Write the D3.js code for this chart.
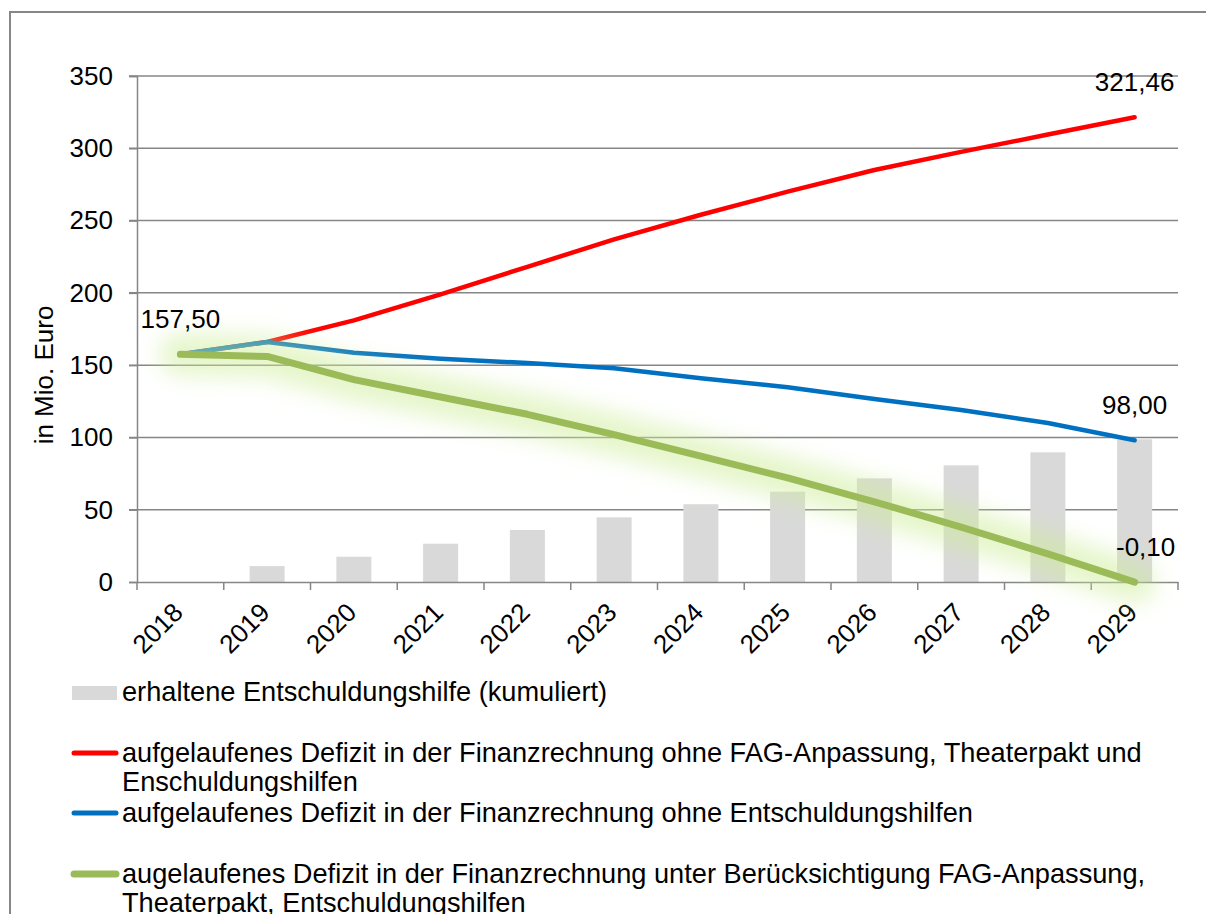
<!DOCTYPE html>
<html><head><meta charset="utf-8">
<script src="https://cdn.jsdelivr.net/npm/d3@7"></script>
<style>
body{margin:0;background:#fff}
text{font-family:"Liberation Sans",Arial,sans-serif;fill:#000}
</style>
</head><body>
<svg id="c" width="1206" height="914"></svg>
<script>
const years = ["2018","2019","2020","2021","2022","2023","2024","2025","2026","2027","2028","2029"];
const hilfeKumuliert = [0, 11, 17.5, 26.5, 36, 44.7, 53.8, 62.5, 71.7, 80.7, 89.7, 98.7];
const defizitOhneAlles = [157.5, 166, 181, 199, 218, 237, 254, 270, 285, 297.5, 309.5, 321.46];
const defizitOhneHilfen = [157.5, 166, 158.6, 154.5, 151.4, 147.8, 141, 134.7, 126.6, 119, 110, 98];
const defizitMitAllem = [157.5, 156, 140, 128, 116, 102, 87, 72, 55.5, 38, 19.5, -0.1];
const yTicks = [0, 50, 100, 150, 200, 250, 300, 350];
const pointLabels = [
  {series: "green", idx: 0, text: "157,50"},
  {series: "red", idx: 11, text: "321,46"},
  {series: "blue", idx: 11, text: "98,00"},
  {series: "green", idx: 11, text: "-0,10"}
];
const legendItems = [
  {type: "bar", lines: ["erhaltene Entschuldungshilfe (kumuliert)"]},
  {type: "red", lines: ["aufgelaufenes Defizit in der Finanzrechnung ohne FAG-Anpassung, Theaterpakt und", "Enschuldungshilfen"]},
  {type: "blue", lines: ["aufgelaufenes Defizit in der Finanzrechnung ohne Entschuldungshilfen"]},
  {type: "green", lines: ["augelaufenes Defizit in der Finanzrechnung unter Berücksichtigung FAG-Anpassung,", "Theaterpakt, Entschuldungshilfen"]}
];

const svg = d3.select("#c");
const FS = 26;
const LFS = 27.2;
const gridColor = "#868686";
const colors = {red: "#ff0000", blue: "#0070c0", green: "#9bbb59", bar: "#d9d9d9"};
const seriesData = {red: defizitOhneAlles, blue: defizitOhneHilfen, green: defizitMitAllem};

const x = d3.scaleBand().domain(years).range([137, 1178]).padding(0);
const y = d3.scaleLinear().domain([0, 350]).range([582, 76]);
const cx = d => x(d) + x.bandwidth() / 2;

// outer border
svg.append("path").attr("d", "M10,914 L10,12 L1206,12")
  .attr("fill", "none").attr("stroke", gridColor).attr("stroke-width", 2);

const defs = svg.append("defs");
defs.append("filter").attr("id", "glow").attr("x", "-20%").attr("y", "-50%").attr("width", "140%").attr("height", "200%")
  .append("feGaussianBlur").attr("stdDeviation", 11);

// gridlines
svg.append("g").selectAll("line").data(yTicks.filter(t => t > 0)).join("line")
  .attr("x1", 129).attr("x2", 1178).attr("y1", d => y(d)).attr("y2", d => y(d))
  .attr("stroke", gridColor).attr("stroke-width", 1.5);

// y axis
const yAxis = svg.append("g").attr("transform", "translate(137,0)")
  .call(d3.axisLeft(y).tickValues(yTicks).tickSize(8).tickPadding(16).tickFormat(d3.format("d")));
yAxis.select(".domain").attr("stroke", gridColor).attr("stroke-width", 1.5);
yAxis.selectAll(".tick line").attr("stroke", gridColor).attr("stroke-width", 1.5);
yAxis.selectAll(".tick text").attr("font-size", FS).attr("font-family", "Liberation Sans, Arial, sans-serif").attr("fill", "#000");

// y title
svg.append("text").attr("transform", "translate(53,375) rotate(-90)")
  .attr("text-anchor", "middle").attr("font-size", FS).text("in Mio. Euro");

// bars
svg.append("g").selectAll("rect").data(years).join("rect")
  .attr("x", (d, i) => cx(d) - 17.5).attr("width", 35)
  .attr("y", (d, i) => y(hilfeKumuliert[i])).attr("height", (d, i) => y(0) - y(hilfeKumuliert[i]))
  .attr("fill", colors.bar);

// x axis
const xAxis = svg.append("g").attr("transform", "translate(0,582)")
  .call(d3.axisBottom(x).tickSize(0).tickFormat(""));
xAxis.select(".domain").attr("stroke", gridColor).attr("stroke-width", 1.5);
const tickPos = years.map(d => x(d)).concat([x(years[years.length - 1]) + x.bandwidth()]);
svg.append("g").selectAll("line").data(tickPos).join("line")
  .attr("x1", d => d).attr("x2", d => d).attr("y1", 582).attr("y2", 590)
  .attr("stroke", gridColor).attr("stroke-width", 1.5);
svg.append("g").selectAll("text").data(years).join("text")
  .attr("transform", d => `translate(${cx(d) + 4},614) rotate(-45)`)
  .attr("text-anchor", "end").attr("font-size", FS).text(d => d);

const line = d3.line().x((d, i) => cx(years[i])).y(d => y(d));

svg.append("path").datum(defizitOhneAlles).attr("d", line)
  .attr("fill", "none").attr("stroke", colors.red).attr("stroke-width", 4.5)
  .attr("stroke-linejoin", "round").attr("stroke-linecap", "round");
svg.append("path").datum(defizitOhneHilfen).attr("d", line)
  .attr("fill", "none").attr("stroke", colors.blue).attr("stroke-width", 4.5)
  .attr("stroke-linejoin", "round").attr("stroke-linecap", "round");
// glow
svg.append("path").datum(defizitMitAllem).attr("d", line)
  .attr("fill", "none").attr("stroke", "#cdee95").attr("stroke-width", 42).attr("stroke-opacity", 0.5)
  .attr("stroke-linejoin", "round").attr("stroke-linecap", "round").attr("filter", "url(#glow)");
svg.append("path").datum(defizitMitAllem).attr("d", line)
  .attr("fill", "none").attr("stroke", colors.green).attr("stroke-width", 7)
  .attr("stroke-linejoin", "round").attr("stroke-linecap", "round");

// data labels
const labelDx = {"157,50": 0, "321,46": 0, "98,00": 0, "-0,10": 11};
svg.append("g").selectAll("text").data(pointLabels).join("text")
  .attr("x", d => cx(years[d.idx]) + labelDx[d.text])
  .attr("y", d => y(seriesData[d.series][d.idx]) - 26)
  .attr("text-anchor", "middle").attr("font-size", FS).text(d => d.text);

// legend
const legendBase = [701, 762, 822, 883];
const lg = svg.append("g");
legendItems.forEach((it, i) => {
  const b = legendBase[i];
  if (it.type === "bar") {
    lg.append("rect").attr("x", 72).attr("y", b - 15).attr("width", 45).attr("height", 14).attr("fill", colors.bar);
  } else {
    lg.append("line").attr("x1", 74).attr("x2", 116).attr("y1", b - 9).attr("y2", b - 9)
      .attr("stroke", colors[it.type]).attr("stroke-width", it.type === "green" ? 7 : 5).attr("stroke-linecap", "round");
  }
  const t = lg.append("text").attr("x", 122).attr("y", b).attr("font-size", LFS);
  it.lines.forEach((ln, j) => t.append("tspan").attr("x", 122).attr("dy", j === 0 ? 0 : 29).text(ln));
});
</script>
</body></html>
